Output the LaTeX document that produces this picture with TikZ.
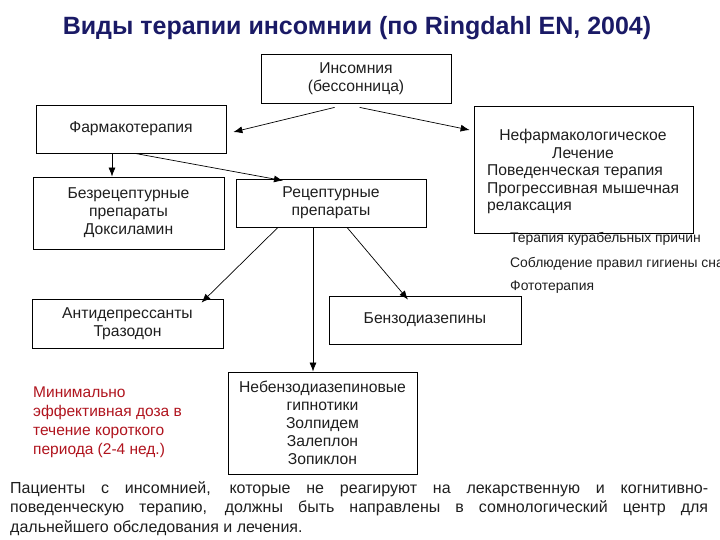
\documentclass[tikz,border=0pt]{standalone}
\usepackage{fontspec}
\setmainfont{Liberation Sans}
\usetikzlibrary{arrows.meta,calc}
\definecolor{titleblue}{HTML}{1A1A66}
\definecolor{notered}{HTML}{B0141E}
\definecolor{boxtext}{HTML}{1E1E1E}
\tikzset{
  box/.style={draw=black, line width=0.8pt, inner sep=0pt, align=center,
    text=boxtext, font=\fontsize{15.7}{18}\selectfont},
  arr/.style={draw=black, line width=0.7pt, -{Latex[length=9pt,width=7pt]}},
  side/.style={anchor=base west, inner sep=0pt, text=boxtext, font=\fontsize{13.9}{16}\selectfont},
}
\begin{document}
\begin{tikzpicture}[x=1pt,y=-1pt]
\useasboundingbox (0,0) rectangle (720,540);
\node[inner sep=0pt, text=titleblue, font=\fontsize{25}{30}\selectfont\bfseries] (title) at (357,28) {Виды терапии инсомнии (по Ringdahl EN, 2004)};

\node[box, minimum width=190pt, minimum height=49pt] (ins) at (356,78.5) {Инсомния\\(бессонница)};
\node[box, minimum width=190pt, minimum height=48pt] (farm) at (131,129) {Фармакотерапия};
\node[box, minimum width=219pt, minimum height=127pt] (nonph) at (583.5,169.5) {};
\node[inner sep=0pt, align=center, text=boxtext, font=\fontsize{15.7}{17.4}\selectfont, anchor=base] (nonphhead) at (583,158.1) {Нефармакологическое\\Лечение};
\node[inner sep=0pt, align=left, text=boxtext, font=\fontsize{15.7}{17.4}\selectfont, anchor=base west] (nonphlist) at (487,210.5) {Поведенческая терапия\\Прогрессивная мышечная\\релаксация};

\node[box, minimum width=191pt, minimum height=72pt] (bezr) at (128.5,213) {Безрецептурные\\препараты\\Доксиламин};
\node[box, minimum width=190pt, minimum height=48pt] (rec) at (331,203) {Рецептурные\\препараты};
\node[box, minimum width=191pt, minimum height=49pt] (anti) at (127.5,323.5) {Антидепрессанты\\Тразодон};
\node[box, minimum width=192pt, minimum height=48pt] (benzo) at (425,320) {Бензодиазепины};
\node[box, minimum width=189pt, minimum height=102pt] (nonbz) at (322.5,423) {Небензодиазепиновые\\гипнотики\\Золпидем\\Залеплон\\Зопиклон};

\node[side] (s1) at (510,243) {Терапия курабельных причин};
\node[side] (s2) at (510,267) {Соблюдение правил гигиены сна};
\node[side] (s3) at (510,290) {Фототерапия};

\node[anchor=base west, inner sep=0pt, align=left, text=notered, font=\fontsize{15.5}{19}\selectfont] (note) at (33,454.5) {Минимально\\эффективная доза в\\течение короткого\\периода (2-4 нед.)};

\node[anchor=base west, inner sep=0pt, align=left, text=boxtext, font=\fontsize{16}{19.5}\selectfont] (para) at (10,532) {\makebox[698pt][s]{Пациенты с инсомнией, которые не реагируют на лекарственную и когнитивно-}\\\makebox[698pt][s]{поведенческую терапию, должны быть направлены в сомнологический центр для}\\дальнейшего обследования и лечения.};

\draw[arr] ([shift={(74,4)}]ins.south west) -- ([shift={(7,3)}]farm.east);
\draw[arr] ([shift={(99,4)}]ins.south west) -- ([shift={(-4,-39.5)}]nonph.west);
\draw[arr] ([xshift=-19pt]farm.south) -- ([xshift=-16.5pt]bezr.north);
\draw[arr] ([xshift=4pt]farm.south) -- ([xshift=-48pt,yshift=-2pt]rec.north);
\draw[arr] ([xshift=-53pt]rec.south) -- ([xshift=74pt,yshift=-4pt]anti.north);
\draw[arr] ([xshift=-18pt]rec.south) -- ([xshift=-9.5pt]nonbz.north);
\draw[arr] ([xshift=16pt]rec.south) -- ([xshift=-17pt,yshift=-4pt]benzo.north);
\end{tikzpicture}
\end{document}
